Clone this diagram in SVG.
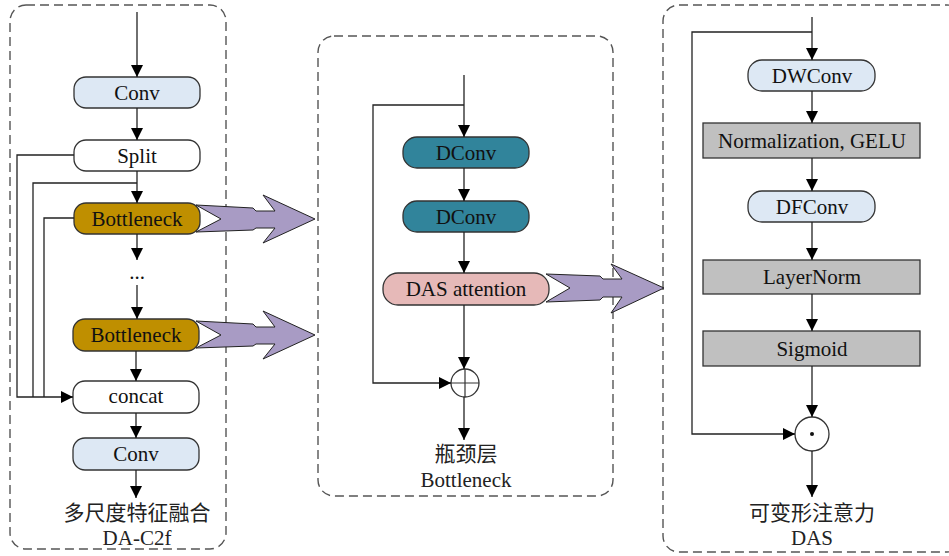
<svg xmlns="http://www.w3.org/2000/svg" width="949" height="556" viewBox="0 0 949 556">
<defs>
<marker id="ah" markerWidth="12" markerHeight="12" refX="12" refY="6" orient="auto" markerUnits="userSpaceOnUse">
<path d="M0,0 L12,6 L0,12 Z" fill="#000"/>
</marker>
<style>
.panel{fill:none;stroke:#555;stroke-width:1.4;stroke-dasharray:9 5}
.box{stroke:#333;stroke-width:1.3}
.t{font-family:"Liberation Serif","Noto Sans CJK SC",serif;font-size:21px;fill:#111;text-anchor:middle}
.c{font-family:"Liberation Serif","Noto Sans CJK SC",serif;font-size:21px;fill:#222;text-anchor:middle}
.conn path{fill:none;stroke:#222;stroke-width:1.3}
.blue{fill:#dde8f4}
.white{fill:#fff}
.gold{fill:#bf8f00}
.teal{fill:#31849b}
.pink{fill:#e6b9b8}
.gray{fill:#c0c0c0}
.big{fill:#a89bc4;stroke:#222;stroke-width:1}
</style>
</defs>
<rect width="949" height="556" fill="#fff"/>

<g id="panels">
<rect class="panel" x="10" y="5" width="216" height="544" rx="16"/>
<rect class="panel" x="318" y="36" width="295" height="460" rx="16"/>
<rect class="panel" x="663" y="5" width="300" height="547" rx="16"/>
</g>

<g id="bigarrows">
<polygon class="big" points="196,205 221,219 196,232 253,230 256,228 275,228 263,243 315,219 263,195 275,211 256,211 253,208"/>
<polygon class="big" transform="translate(0,116)" points="196,205 221,219 196,232 253,230 256,228 275,228 263,243 315,219 263,195 275,211 256,211 253,208"/>
<polygon class="big" points="546,274 570,288 546,302 600,300 603,297 622,297 611,313 664,288 611,264 622,279 603,279 600,276"/>
</g>

<g id="conv1"><rect class="box blue" x="74" y="77" width="126" height="31" rx="12"/><text class="t" x="137" y="100">Conv</text></g>
<g id="split"><rect class="box white" x="74" y="140" width="126" height="31" rx="12"/><text class="t" x="137" y="163">Split</text></g>
<g id="bottleneck1"><rect class="box gold" x="74" y="203" width="126" height="31" rx="12"/><text class="t" x="137" y="226">Bottleneck</text></g>
<g id="dots"><text class="t" x="137" y="279">...</text></g>
<g id="bottleneck2"><rect class="box gold" x="73" y="319" width="126" height="32" rx="12"/><text class="t" x="136" y="342">Bottleneck</text></g>
<g id="concat"><rect class="box white" x="73" y="381" width="126" height="32" rx="12"/><text class="t" x="136" y="403">concat</text></g>
<g id="conv2"><rect class="box blue" x="73" y="438" width="126" height="32" rx="12"/><text class="t" x="136" y="461">Conv</text></g>
<g id="label1"><text class="c" x="137" y="520">多尺度特征融合</text><text class="c" x="137" y="545">DA-C2f</text></g>

<g id="dconv1"><rect class="box teal" x="403" y="137" width="126" height="31" rx="14"/><text class="t" x="466" y="160">DConv</text></g>
<g id="dconv2"><rect class="box teal" x="403" y="201" width="126" height="31" rx="14"/><text class="t" x="466" y="224">DConv</text></g>
<g id="das_att"><rect class="box pink" x="383" y="273" width="166" height="32" rx="15"/><text class="t" x="466" y="296">DAS attention</text></g>
<g id="add"><circle cx="465" cy="383" r="14" fill="#fff" stroke="#333" stroke-width="1.3"/><path d="M451,383 H479 M465,369 V397" stroke="#333" stroke-width="1.2"/></g>
<g id="label2"><text class="c" x="466" y="461">瓶颈层</text><text class="c" x="466" y="487">Bottleneck</text></g>

<g id="dwconv"><rect class="box blue" x="748" y="60" width="127" height="31" rx="14"/><text class="t" x="812" y="83">DWConv</text></g>
<g id="norm"><rect class="box gray" x="703" y="123" width="217" height="35"/><text class="t" x="812" y="148">Normalization, GELU</text></g>
<g id="dfconv"><rect class="box blue" x="748" y="191" width="127" height="31" rx="14"/><text class="t" x="812" y="214">DFConv</text></g>
<g id="layernorm"><rect class="box gray" x="703" y="260" width="217" height="34"/><text class="t" x="812" y="284">LayerNorm</text></g>
<g id="sigmoid"><rect class="box gray" x="703" y="331" width="217" height="35"/><text class="t" x="812" y="356">Sigmoid</text></g>
<g id="mul"><circle cx="812" cy="434" r="17" fill="#fff" stroke="#333" stroke-width="1.3"/><circle cx="812" cy="434" r="2" fill="#111"/></g>
<g id="label3"><text class="c" x="812" y="520">可变形注意力</text><text class="c" x="812" y="545">DAS</text></g>

<g id="connectors" class="conn">
<path d="M137,12 V77" marker-end="url(#ah)"/>
<path d="M137,108 V140" marker-end="url(#ah)"/>
<path d="M137,171 V203" marker-end="url(#ah)"/>
<path d="M137,234 V260" marker-end="url(#ah)"/>
<path d="M137,285 V319" marker-end="url(#ah)"/>
<path d="M136,351 V381" marker-end="url(#ah)"/>
<path d="M136,413 V438" marker-end="url(#ah)"/>
<path d="M136,470 V498" marker-end="url(#ah)"/>
<path d="M74,155 H17 V397 H73" marker-end="url(#ah)"/>
<path d="M137,183 H33 V397"/>
<path d="M74,218 H44 V397"/>

<path d="M464,75 V137" marker-end="url(#ah)"/>
<path d="M464,105 H373 V383 H451" marker-end="url(#ah)"/>
<path d="M464,168 V201" marker-end="url(#ah)"/>
<path d="M464,232 V273" marker-end="url(#ah)"/>
<path d="M464,305 V369" marker-end="url(#ah)"/>
<path d="M464,397 V440" marker-end="url(#ah)"/>

<path d="M812,17 V60" marker-end="url(#ah)"/>
<path d="M812,32 H692 V434 H795" marker-end="url(#ah)"/>
<path d="M812,91 V123" marker-end="url(#ah)"/>
<path d="M812,158 V191" marker-end="url(#ah)"/>
<path d="M812,222 V260" marker-end="url(#ah)"/>
<path d="M812,294 V331" marker-end="url(#ah)"/>
<path d="M812,366 V417" marker-end="url(#ah)"/>
<path d="M812,451 V497" marker-end="url(#ah)"/>
</g>
</svg>
